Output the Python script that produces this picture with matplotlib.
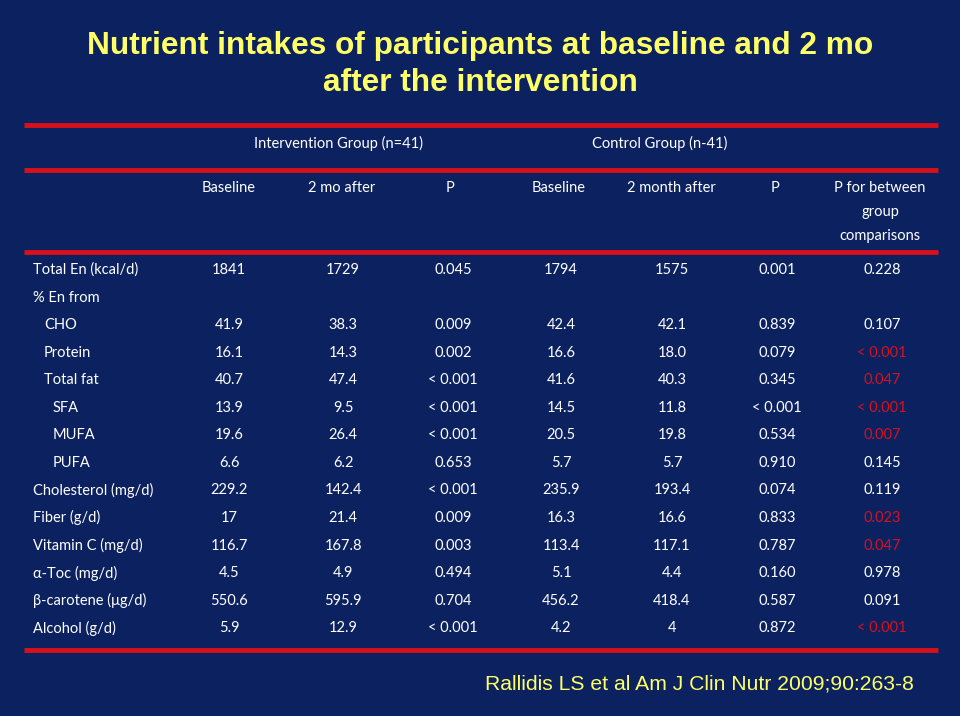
import matplotlib.pyplot as plt

# table data
labels = ["Total En (kcal/d)", "% En from", "CHO", "Protein", "Total fat", "SFA", "MUFA", "PUFA",
          "Cholesterol (mg/d)", "Fiber (g/d)", "Vitamin C (mg/d)", "α-Toc (mg/d)",
          "β-carotene (μg/d)", "Alcohol (g/d)"]
indent = [0, 0, 1, 1, 1, 2, 2, 2, 0, 0, 0, 0, 0, 0]
int_base = ["1841", "", "41.9", "16.1", "40.7", "13.9", "19.6", "6.6", "229.2", "17", "116.7", "4.5", "550.6", "5.9"]
int_after = ["1729", "", "38.3", "14.3", "47.4", "9.5", "26.4", "6.2", "142.4", "21.4", "167.8", "4.9", "595.9", "12.9"]
int_p = ["0.045", "", "0.009", "0.002", "< 0.001", "< 0.001", "< 0.001", "0.653", "< 0.001", "0.009", "0.003", "0.494", "0.704", "< 0.001"]
ctl_base = ["1794", "", "42.4", "16.6", "41.6", "14.5", "20.5", "5.7", "235.9", "16.3", "113.4", "5.1", "456.2", "4.2"]
ctl_after = ["1575", "", "42.1", "18.0", "40.3", "11.8", "19.8", "5.7", "193.4", "16.6", "117.1", "4.4", "418.4", "4"]
ctl_p = ["0.001", "", "0.839", "0.079", "0.345", "< 0.001", "0.534", "0.910", "0.074", "0.833", "0.787", "0.160", "0.587", "0.872"]
between_p = ["0.228", "", "0.107", "< 0.001", "0.047", "< 0.001", "0.007", "0.145", "0.119", "0.023", "0.047", "0.978", "0.091", "< 0.001"]
significant = [False, False, False, True, True, True, True, False, False, True, True, False, False, True]

col_headers = ["Baseline", "2 mo after", "P", "Baseline", "2 month after", "P"]

bg = "#0c2260"
red = "#d8101c"
yellow = "#ffff66"
tfont = ["Lato", "DejaVu Sans"]

fig = plt.figure(figsize=(9.6, 7.16), dpi=100, facecolor=bg)
ax = fig.add_axes([0, 0, 1, 1])
ax.set_xlim(0, 960)
ax.set_ylim(716, 0)
ax.axis("off")

ax.text(480, 46, "Nutrient intakes of participants at baseline and 2 mo", ha="center", va="center",
        color=yellow, fontsize=22.8, fontweight="bold", family="Liberation Sans")
ax.text(480, 83, "after the intervention", ha="center", va="center",
        color=yellow, fontsize=22.8, fontweight="bold", family="Liberation Sans")

for y in [125, 170, 252, 650]:
    ax.plot([24, 938], [y, y], color=red, lw=3.5, solid_capstyle="butt")

fs = 10.5
ax.text(338, 143, "Intervention Group (n=41)", ha="center", va="center", color="white", fontsize=fs, family=tfont)
ax.text(660, 143, "Control Group (n-41)", ha="center", va="center", color="white", fontsize=fs, family=tfont)

hx = [229, 342, 450, 559, 671, 775]
for x, h in zip(hx, col_headers):
    ax.text(x, 188, h, ha="center", va="center", color="white", fontsize=fs, family=tfont)
for y, h in zip([188, 212, 236], ["P for between", "group", "comparisons"]):
    ax.text(880, y, h, ha="center", va="center", color="white", fontsize=fs, family=tfont)

cols = [int_base, int_after, int_p, ctl_base, ctl_after, ctl_p]
cx = [229, 343, 453, 561, 672, 777]
row_y0, row_dy = 270, 27.55
for i, lab in enumerate(labels):
    y = row_y0 + i * row_dy
    ax.text(33 + [0, 11, 20][indent[i]], y, lab, ha="left", va="center", color="white", fontsize=fs, family=tfont)
    for x, col in zip(cx, cols):
        ax.text(x, y, col[i], ha="center", va="center", color="white", fontsize=fs, family=tfont)
    ax.text(882, y, between_p[i], ha="center", va="center",
            color=red if significant[i] else "white", fontsize=fs, family=tfont)

ax.text(699, 684, "Rallidis LS et al Am J Clin Nutr 2009;90:263-8", ha="center", va="center",
        color=yellow, fontsize=15.2, family="Liberation Sans")

fig.savefig("out.png", dpi=100, facecolor=bg)
